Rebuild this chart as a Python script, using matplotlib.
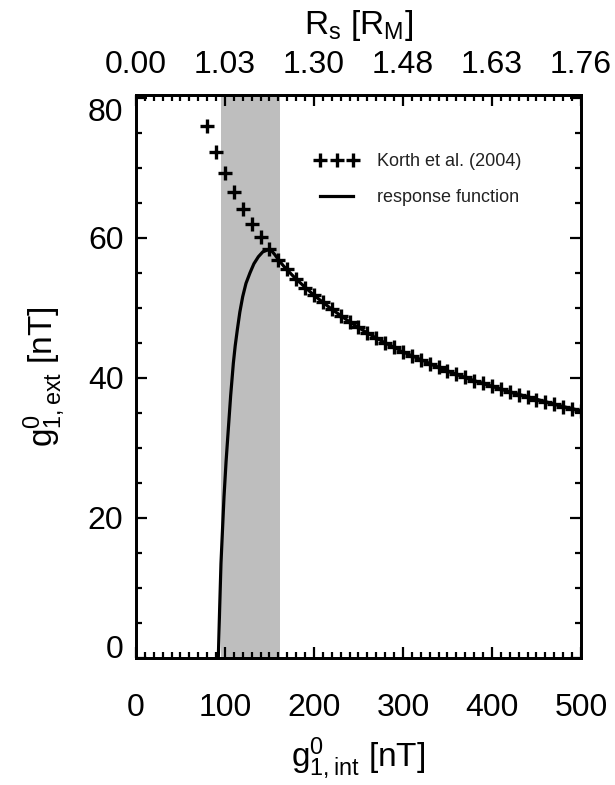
import numpy as np
import matplotlib
matplotlib.use('Agg')
import matplotlib.pyplot as plt

plt.rcParams['font.family'] = ['Liberation Sans', 'DejaVu Sans']
plt.rcParams['mathtext.fontset'] = 'custom'
plt.rcParams['mathtext.rm'] = 'Liberation Sans'
plt.rcParams['mathtext.it'] = 'Liberation Sans'

# --- Korth et al. (2004) points ---
g_int_korth = np.arange(80, 510, 10)
g_ext_korth = np.array([76.0, 72.3, 69.2, 66.5, 64.1, 62.0, 60.1, 58.4, 56.9, 55.5,
                        54.1, 52.9, 51.8, 50.8, 49.8, 48.9, 48.0, 47.2, 46.4, 45.7,
                        45.0, 44.4, 43.7, 43.1, 42.6, 42.0, 41.5, 41.0, 40.5, 40.1,
                        39.6, 39.2, 38.8, 38.4, 38.0, 37.6, 37.3, 36.9, 36.6, 36.3,
                        35.9, 35.6, 35.3])

# --- response function ---
g_int_resp = [92.5, 94.0, 95.5, 97.1, 98.9, 101.2, 103.7, 106.4, 109.4, 111.5, 113.9,
              116.7, 119.9, 123.6, 128.1, 132.5, 137.5, 142.5, 148.7, 152, 156, 160,
              165, 170, 180, 200, 220, 240, 260, 280, 300, 320, 340, 360,
              380, 400, 420, 440, 460, 480, 500]
g_ext_resp = [0.0, 7.0, 13.5, 18.0, 23.0, 28.0, 32.6, 37.5, 42.1, 44.6, 46.9,
              49.4, 51.6, 53.5, 55.0, 56.3, 57.3, 58.0, 58.3, 58.2, 57.6, 56.9,
              56.1, 55.4, 54.1, 51.8, 49.8, 48.0, 46.4, 45.0, 43.7, 42.6, 41.5, 40.5,
              39.6, 38.8, 38.0, 37.3, 36.6, 35.9, 35.3]

# faixa cinza
band = (95, 162)

x_ticks = [0, 100, 200, 300, 400, 500]
rs_labels = ['0.00', '1.03', '1.30', '1.48', '1.63', '1.76']
y_ticks = [0, 20, 40, 60, 80]

fig = plt.figure(figsize=(6.15, 7.85), dpi=100)
ax = fig.add_axes([0.2211, 0.1618, 0.7236, 0.7172])

ax.axvspan(band[0], band[1], color='#bebebe', lw=0, zorder=0)
ax.plot(g_int_korth, g_ext_korth, '+', color='black', ms=9.5, mew=2.4,
        label='Korth et al. (2004)', zorder=3)
ax.plot(g_int_resp, g_ext_resp, '-', color='black', lw=2.3,
        label='response function', zorder=2)

ax.set_xlim(0, 500)
ax.set_ylim(0, 80.4)
ax.set_xticks(x_ticks)
ax.set_yticks(y_ticks)
ax.set_xticks(np.arange(0, 501, 10), minor=True)
ax.set_yticks(np.arange(0, 81, 5), minor=True)
ax.tick_params(which='both', direction='in', top=False, right=True, width=1.6,
               labelsize=23)
ax.tick_params(axis='x', which='major', length=8, pad=25)
ax.tick_params(axis='y', which='major', length=8, pad=9)
ax.tick_params(which='minor', length=4)
for s in ax.spines.values():
    s.set_linewidth(2.0)

yt = ax.yaxis.get_major_ticks()
yt[0].label1.set_va('baseline')
yt[-1].label1.set_va('top')

ax.set_xlabel(r'$\mathrm{g^0_{1,int}}$ [nT]', fontsize=24)
ax.xaxis.set_label_coords(0.5, -0.137)
ax.set_ylabel(r'$\mathrm{g^0_{1,ext}}$ [nT]', fontsize=24)
ax.yaxis.set_label_coords(-0.155, 0.5)

# eixo superior (R_s)
ax2 = ax.twiny()
ax2.set_xlim(ax.get_xlim())
ax2.set_xticks(x_ticks)
ax2.set_xticklabels(rs_labels)
ax2.set_xticks(np.arange(0, 501, 10), minor=True)
ax2.tick_params(which='both', direction='in', width=1.6, labelsize=23)
ax2.tick_params(which='major', length=8, pad=11)
ax2.tick_params(which='minor', length=4)
ax2.set_xlabel(r'$\mathrm{R_s\ [R_M]}$', fontsize=24)
ax2.xaxis.set_label_coords(0.5, 1.108)
for s in ax2.spines.values():
    s.set_linewidth(2.0)

ax.legend(loc='upper left', bbox_to_anchor=(0.402, 0.897), frameon=False,
          numpoints=3, fontsize=13, handlelength=2.4, handletextpad=1.05,
          labelspacing=1.08, borderpad=0, borderaxespad=0, labelcolor='#222222')

fig.savefig('out.png', dpi=100)
